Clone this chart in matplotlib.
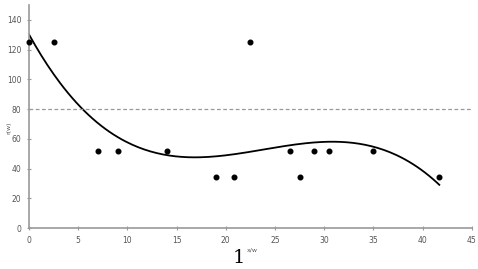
import numpy as np
import matplotlib
matplotlib.use("Agg")
import matplotlib.pyplot as plt

# scatter data
x_pts = [0, 2.5, 7, 9, 14, 19, 20.8, 22.5, 26.5, 27.5, 29, 30.5, 35, 41.7]
y_pts = [125, 125, 52, 52, 52, 34, 34, 125, 52, 34, 52, 52, 52, 34]
threshold = 80

fig = plt.figure(figsize=(4.78, 2.69), dpi=100)
ax = fig.add_axes([0.0607, 0.1524, 0.9263, 0.829])

# cubic trend line fitted to the points
coef = np.polyfit(x_pts, y_pts, 3)
xs = np.linspace(min(x_pts), max(x_pts), 200)
ax.plot(xs, np.polyval(coef, xs), color="black", lw=1.3)

ax.scatter(x_pts, y_pts, s=11, color="black", zorder=3, clip_on=False)
ax.axhline(threshold, color="#999999", ls=(0, (3, 2)), lw=0.9)

ax.set_xlim(0, 45)
ax.set_ylim(0, 150)
ax.set_xticks(range(0, 46, 5))
ax.set_yticks(range(0, 141, 20))
for s in ["top", "right"]:
    ax.spines[s].set_visible(False)
for s in ["left", "bottom"]:
    ax.spines[s].set_color("#999999")
    ax.spines[s].set_linewidth(1.2)
ax.tick_params(direction="inout", length=3, width=0.8, color="#999999",
               labelsize=5.5, labelcolor="#555555", pad=4)

fig.text(0.018, 0.525, "r(w)", rotation=90, fontsize=4.5, color="#555555",
         ha="center", va="center")
fig.text(0.527, 0.07, "x/w", fontsize=4.5, color="#555555", ha="center", va="center")
fig.text(0.50, 0.04, "1", fontsize=14, family="serif", ha="center", va="center")

fig.savefig("out.png", dpi=100)
